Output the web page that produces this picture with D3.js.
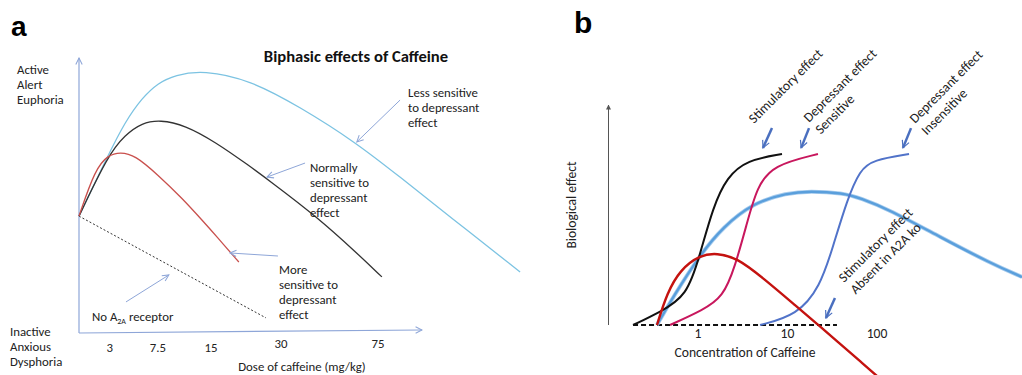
<!DOCTYPE html>
<html><head><meta charset="utf-8">
<script src="https://cdn.jsdelivr.net/npm/d3@7"></script>
<style>body{margin:0;background:#fff;} svg{display:block;font-family:Carlito, Calibri, Lato, sans-serif;}</style>
</head><body><svg id="c" width="1022" height="375"></svg>
<script>
// ---------- Panel a data (x: relative dose position 0-100, y: effect 0-100) ----------
const aLessSensitive = [[0,42.5],[8.5,64.7],[13.4,76.7],[18.4,85.5],[23.0,90.9],[28.0,93.8],[36.2,95.6],[49.9,92.0],[64.4,82.2],[80.5,69.5],[93.6,56.7],[108.2,42.2],[128.6,22.2]];
const aNormal = [[0,42.5],[8.5,64.7],[13.4,72],[18.4,76.4],[23.6,77.5],[30.9,75.6],[39.7,69.5],[49.3,61.1],[55.7,55.2],[69.4,42.2],[81.0,29.1],[88.3,20.4]];
const aMoreSensitive = [[0,42.5],[4.7,59.6],[8.5,64.7],[12.0,65.8],[16.3,64.7],[23.0,57.5],[30.0,49.1],[36.2,40.6],[40.2,35.0],[46.6,25.8]];
const aNoA2A = [[0,42.5],[54.5,5.5]];
const aTickLabels = ["3","7.5","15","30","75"];
const aTickPos = [9.0,23.0,38.5,58.9,87.2];
// annotation arrows [fromX, fromY, toX, toY]
const aArrows = [[93.6,84.7,81.0,69.5],[65.9,61.8,54.8,56.7],[58.0,28.0,44.0,29.1],[13.7,11.3,26.2,21.1]];

// ---------- Panel b data (x: concentration, log; y: biological effect 0-100) ----------
const bStimulatory = [[0.188,0],[0.376,5.9],[0.753,13.2],[1.05,31.8],[1.47,53.6],[2.11,67.3],[3.53,75],[8.68,77.7]];
const bSensitive = [[0.487,0],[1.137,6.8],[1.90,12.7],[2.59,26.4],[3.53,46.4],[4.56,62.7],[6.89,72.7],[21.9,77.7]];
const bInsensitive = [[4.93,0],[12.8,4.5],[23.1,17.3],[32.2,35.5],[46.2,56.8],[64.6,70.5],[90.2,75],[228,77.7]];
const bBroad = [[0.348,0],[0.526,12.7],[1.05,31.8],[1.90,44.5],[4.12,55.5],[9.87,60],[17.8,60.9],[41.7,60],[64.6,57.7],[140,52.3],[506,40],[1832,28.2],[4170,21.8]];
const bA2Ako = [[0.348,0],[0.451,14.5],[0.629,25],[1.05,31.8],[1.63,32.7],[2.73,30.5],[5.32,21.4],[12.8,8.2],[21.4,0.5],[35.7,-7.3],[64.6,-16.4],[123,-26.4]];
const bBaseline = [[0.188,0],[35.7,0]];
const bTickLabels = ["1","10","100"];
const bTickPos = [1,10,100];
const bArrows = [[6.71,89.5,5.32,80.5],[17.4,89.5,14.2,80.5],[240,89.5,195,80.5],[33.9,12.3,26.9,3.2]];

const svg = d3.select("#c");
const defs = svg.append("defs");
function marker(id, color, w) {
  defs.append("marker").attr("id", id).attr("viewBox", "0 0 10 10").attr("refX", 9).attr("refY", 5)
    .attr("markerWidth", w).attr("markerHeight", w).attr("orient", "auto-start-reverse")
    .attr("markerUnits", "userSpaceOnUse")
    .append("path").attr("d", "M1,1 L9,5 L1,9").attr("fill", "none").attr("stroke", color).attr("stroke-width", 1.3);
}
marker("ma", "#8ea6d8", 8);
marker("mb", "#4a6fbf", 9);
defs.append("marker").attr("id", "my").attr("viewBox", "0 0 10 10").attr("refX", 9).attr("refY", 5)
  .attr("markerWidth", 5).attr("markerHeight", 5).attr("orient", "auto").attr("markerUnits", "userSpaceOnUse")
  .append("path").attr("d", "M0,0 L10,5 L0,10 Z").attr("fill", "#555");

// ---------- Panel a ----------
const xA = d3.scaleLinear().domain([0, 100]).range([79, 422]);
const yA = d3.scaleLinear().domain([0, 100]).range([333, 58]);
const lineA = d3.line().x(d => xA(d[0])).y(d => yA(d[1])).curve(d3.curveBasis);

svg.append("text").attr("x", 11).attr("y", 36).attr("font-family", "Liberation Sans, Arial, sans-serif")
  .attr("font-weight", "bold").attr("font-size", 28).text("a");

// axes
svg.append("line").attr("x1", xA(0)).attr("y1", yA(0)).attr("x2", xA(0)).attr("y2", yA(100))
  .attr("stroke", "#8ea6d8").attr("stroke-width", 1.2).attr("marker-end", "url(#ma)");
svg.append("line").attr("x1", xA(0)).attr("y1", yA(0)).attr("x2", xA(100)).attr("y2", yA(1.1))
  .attr("stroke", "#8ea6d8").attr("stroke-width", 1.2).attr("marker-end", "url(#ma)");

svg.append("path").datum(aNoA2A).attr("d", lineA).attr("fill", "none").attr("stroke", "#333")
  .attr("stroke-width", 1).attr("stroke-dasharray", "2,2");
svg.append("path").datum(aLessSensitive).attr("d", lineA).attr("fill", "none").attr("stroke", "#7cc3e2").attr("stroke-width", 1.3);
svg.append("path").datum(aNormal).attr("d", lineA).attr("fill", "none").attr("stroke", "#333").attr("stroke-width", 1.3);
svg.append("path").datum(aMoreSensitive).attr("d", lineA).attr("fill", "none").attr("stroke", "#c9504d").attr("stroke-width", 1.3);

svg.selectAll(".aarr").data(aArrows).enter().append("line")
  .attr("x1", d => xA(d[0])).attr("y1", d => yA(d[1])).attr("x2", d => xA(d[2])).attr("y2", d => yA(d[3]))
  .attr("stroke", "#8ea6d8").attr("stroke-width", 1).attr("marker-end", "url(#ma)");

const fsA = 12.8;
svg.selectAll(".atick").data(aTickLabels).enter().append("text")
  .attr("x", (d, i) => xA(aTickPos[i])).attr("y", (d, i) => i < 3 ? 352 : 348)
  .attr("text-anchor", "middle").attr("font-size", fsA).attr("fill", "#222").text(d => d);

function block(x, y, lines, size, lh) {
  const t = svg.append("text").attr("x", x).attr("y", y).attr("font-size", size).attr("fill", "#222");
  lines.forEach((l, i) => t.append("tspan").attr("x", x).attr("dy", i ? lh : 0).text(l));
  return t;
}
block(17, 74, ["Active", "Alert", "Euphoria"], fsA, 15);
block(10, 336, ["Inactive", "Anxious", "Dysphoria"], fsA, 15);
block(408, 97, ["Less sensitive", "to depressant", "effect"], fsA, 15);
block(310, 172, ["Normally", "sensitive to", "depressant", "effect"], fsA, 15);
block(279, 274, ["More", "sensitive to", "depressant", "effect"], fsA, 15);
const noT = svg.append("text").attr("x", 92).attr("y", 321).attr("font-size", fsA).attr("fill", "#222");
noT.append("tspan").text("No A");
noT.append("tspan").attr("font-size", 8).attr("dy", 3).text("2A");
noT.append("tspan").attr("dy", -3).text(" receptor");
svg.append("text").attr("x", 356).attr("y", 62).attr("text-anchor", "middle").attr("font-weight", "bold")
  .attr("font-size", 16.6).attr("fill", "#111").text("Biphasic effects of Caffeine");
svg.append("text").attr("x", 302).attr("y", 371).attr("text-anchor", "middle").attr("font-size", fsA)
  .attr("fill", "#222").text("Dose of caffeine (mg/kg)");

// ---------- Panel b ----------
const xB = d3.scaleLog().domain([0.1, 1000]).range([608.5, 966.5]);
const yB = d3.scaleLinear().domain([0, 100]).range([325, 105]);
const lineB = d3.line().x(d => xB(d[0])).y(d => yB(d[1])).curve(d3.curveBasis);

svg.append("text").attr("x", 574).attr("y", 33).attr("font-family", "Liberation Sans, Arial, sans-serif")
  .attr("font-weight", "bold").attr("font-size", 30).text("b");

svg.append("line").attr("x1", xB(0.1)).attr("y1", yB(0)).attr("x2", xB(0.1)).attr("y2", yB(100))
  .attr("stroke", "#555").attr("stroke-width", 1).attr("marker-end", "url(#my)");

svg.append("path").datum(bBaseline).attr("d", lineB).attr("fill", "none").attr("stroke", "#111")
  .attr("stroke-width", 2).attr("stroke-dasharray", "5,3");

svg.append("path").datum(bBroad).attr("d", lineB).attr("fill", "none").attr("stroke", "#a9cdee").attr("stroke-width", 4);
svg.append("path").datum(bBroad).attr("d", lineB).attr("fill", "none").attr("stroke", "#5a9fdc").attr("stroke-width", 2.4);
svg.append("path").datum(bStimulatory).attr("d", lineB).attr("fill", "none").attr("stroke", "#111").attr("stroke-width", 2);
svg.append("path").datum(bSensitive).attr("d", lineB).attr("fill", "none").attr("stroke", "#c8175d").attr("stroke-width", 2);
svg.append("path").datum(bInsensitive).attr("d", lineB).attr("fill", "none").attr("stroke", "#5173c9").attr("stroke-width", 2);
svg.append("path").datum(bA2Ako).attr("d", lineB).attr("fill", "none").attr("stroke", "#c4120f").attr("stroke-width", 2.4);

svg.selectAll(".barr").data(bArrows).enter().append("line")
  .attr("x1", d => xB(d[0])).attr("y1", d => yB(d[1])).attr("x2", d => xB(d[2])).attr("y2", d => yB(d[3]))
  .attr("stroke", "#4a6fbf").attr("stroke-width", 2.5).attr("marker-end", "url(#mb)");

const fsB = 13.6;
svg.selectAll(".btick").data(bTickLabels).enter().append("text")
  .attr("x", d => xB(+d)).attr("y", 338).attr("text-anchor", "middle").attr("font-size", fsB).attr("fill", "#222").text(d => d);
svg.append("text").attr("x", 745).attr("y", 357).attr("text-anchor", "middle").attr("font-size", fsB)
  .attr("fill", "#222").text("Concentration of Caffeine");
svg.append("text").attr("transform", "translate(576,205) rotate(-90)").attr("text-anchor", "middle")
  .attr("font-size", fsB).attr("fill", "#222").text("Biological effect");

function rot(x, y, lines) {
  const t = svg.append("text").attr("transform", `translate(${x},${y}) rotate(-45)`).attr("font-size", fsB).attr("fill", "#222");
  lines.forEach((l, i) => t.append("tspan").attr("x", 0).attr("dy", i ? 16.5 : 0).text(l));
}
rot(754, 124, ["Stimulatory effect"]);
rot(809, 123, ["Depressant effect", "Sensitive"]);
rot(915, 124, ["Depressant effect", "Insensitive"]);
rot(844, 283, ["Stimulatory effect", "Absent in A2A  ko"]);
</script></body></html>
